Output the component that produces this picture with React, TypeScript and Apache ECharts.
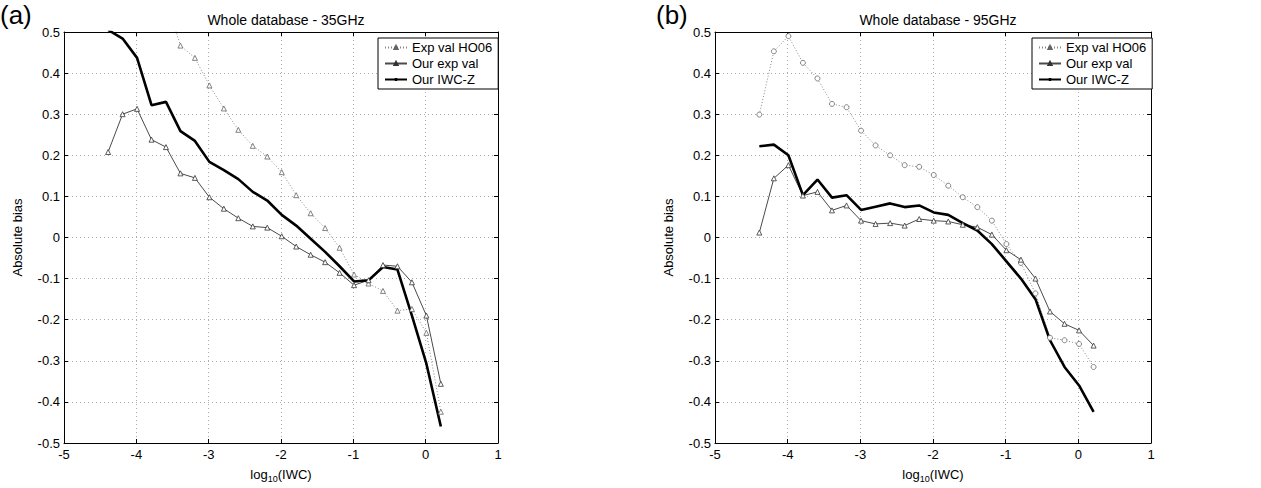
import React, { useEffect, useRef } from "react";
import * as echarts from "echarts";

const X = [-4.39, -4.19, -3.99, -3.79, -3.59, -3.39, -3.19, -2.99, -2.79, -2.59, -2.39, -2.19, -1.99, -1.79, -1.59, -1.39, -1.19, -0.99, -0.79, -0.59, -0.39, -0.19, 0.01, 0.21];

const leftHO06 = [null, null, null, null, 0.58, 0.467, 0.437, 0.37, 0.314, 0.262, 0.223, 0.197, 0.159, 0.103, 0.059, 0.023, -0.025, -0.09, -0.112, -0.13, -0.178, -0.174, -0.232, -0.424];
const leftOurExp = [0.208, 0.3, 0.313, 0.238, 0.22, 0.156, 0.145, 0.098, 0.07, 0.047, 0.027, 0.024, 0.003, -0.022, -0.042, -0.06, -0.086, -0.116, -0.104, -0.067, -0.07, -0.109, -0.19, -0.356];
const leftIWCZ = [0.505, 0.484, 0.437, 0.322, 0.33, 0.259, 0.235, 0.184, 0.164, 0.142, 0.111, 0.09, 0.055, 0.029, -0.003, -0.035, -0.07, -0.107, -0.104, -0.072, -0.078, -0.19, -0.307, -0.46];

const rightHO06 = [0.299, 0.453, 0.49, 0.425, 0.387, 0.325, 0.317, 0.26, 0.224, 0.2, 0.176, 0.172, 0.152, 0.126, 0.098, 0.074, 0.041, -0.016, -0.062, -0.136, -0.244, -0.25, -0.259, -0.315];
const rightOurExp = [0.012, 0.144, 0.176, 0.102, 0.111, 0.066, 0.078, 0.041, 0.033, 0.035, 0.029, 0.045, 0.041, 0.039, 0.031, 0.025, 0.007, -0.031, -0.054, -0.1, -0.18, -0.21, -0.226, -0.263];
const rightIWCZ = [0.222, 0.226, 0.2, 0.103, 0.141, 0.097, 0.103, 0.067, 0.075, 0.083, 0.074, 0.078, 0.061, 0.055, 0.035, 0.017, -0.016, -0.058, -0.1, -0.15, -0.25, -0.315, -0.36, -0.424];

const seriesNames = ["Exp val HO06", "Our exp val", "Our IWC-Z"];
const titles = ["Whole database - 35GHz", "Whole database - 95GHz"];
const panelLabels = ["(a)", "(b)"];

const FONT = "Liberation Sans, Arial, sans-serif";

const pair = (ys: (number | null)[]) => X.map((x, i) => [x, ys[i]]);

export default function App() {
  const ref = useRef<HTMLDivElement>(null);
  useEffect(() => {
    document.body.style.margin = "0";
    const chart = echarts.init(ref.current!, null, { renderer: "svg" });
    const grids = [
      { left: 64, top: 32, width: 434, height: 415 },
      { left: 715, top: 32, width: 436, height: 415 },
    ];
    const xAxes: any[] = [];
    const yAxes: any[] = [];
    for (let g = 0; g < 2; g++) {
      xAxes.push({
        type: "value", gridIndex: g, min: -5, max: 1, interval: 1, position: "bottom",
        name: "log{sub|10}(IWC)", nameLocation: "middle", nameGap: 22,
        nameTextStyle: { fontFamily: FONT, fontSize: 13, color: "#000",
          rich: { sub: { fontSize: 9, verticalAlign: "bottom", padding: [9, 0, 0, 0], fontFamily: FONT, color: "#000" } } },
        axisLine: { show: true, onZero: false, lineStyle: { color: "#000", width: 1 } },
        axisTick: { show: true, inside: true, length: 4, lineStyle: { color: "#000" } },
        axisLabel: { fontFamily: FONT, fontSize: 13, color: "#000", margin: 5 },
        splitLine: { show: true, lineStyle: { type: [1, 3], color: "#aaa", width: 1 } },
      });
      yAxes.push({
        type: "value", gridIndex: g, min: -0.5, max: 0.5, interval: 0.1, position: "left",
        name: "Absolute bias", nameLocation: "middle", nameGap: 40,
        nameTextStyle: { fontFamily: FONT, fontSize: 13, color: "#000" },
        axisLine: { show: true, onZero: false, lineStyle: { color: "#000", width: 1 } },
        axisTick: { show: true, inside: true, length: 4, lineStyle: { color: "#000" } },
        axisLabel: { fontFamily: FONT, fontSize: 13, color: "#000", margin: 4,
          formatter: (v: number) => String(Math.round(v * 10) / 10) },
        splitLine: { show: true, lineStyle: { type: [1, 3], color: "#aaa", width: 1 } },
      });
    }
    for (let g = 0; g < 2; g++) {
      xAxes.push({
        type: "value", gridIndex: g, min: -5, max: 1, interval: 1, position: "top",
        axisLine: { show: true, onZero: false, lineStyle: { color: "#000", width: 1 } },
        axisTick: { show: true, inside: true, length: 4, lineStyle: { color: "#000" } },
        axisLabel: { show: false }, splitLine: { show: false },
      });
      yAxes.push({
        type: "value", gridIndex: g, min: -0.5, max: 0.5, interval: 0.1, position: "right",
        axisLine: { show: true, onZero: false, lineStyle: { color: "#000", width: 1 } },
        axisTick: { show: true, inside: true, length: 4, lineStyle: { color: "#000" } },
        axisLabel: { show: false }, splitLine: { show: false },
      });
    }
    const mk = (g: number, ho: (number | null)[], ours: number[], iwc: number[], hoSym: string) => [
      {
        name: seriesNames[0], type: "line", xAxisIndex: g, yAxisIndex: g, data: pair(ho),
        symbol: hoSym, symbolSize: 5, clip: true,
        lineStyle: { color: "#888", width: 1, type: [1, 2] },
        itemStyle: { color: "#fff", borderColor: "#666", borderWidth: 0.8 },
      },
      {
        name: seriesNames[1], type: "line", xAxisIndex: g, yAxisIndex: g, data: pair(ours),
        symbol: "triangle", symbolSize: 5, clip: true,
        lineStyle: { color: "#4a4a4a", width: 1 },
        itemStyle: { color: "#fff", borderColor: "#333", borderWidth: 0.8 },
      },
      {
        name: seriesNames[2], type: "line", xAxisIndex: g, yAxisIndex: g, data: pair(iwc),
        symbol: "none", clip: true,
        lineStyle: { color: "#000", width: 2.6 },
        itemStyle: { color: "#000" },
      },
    ];
    const legendBase = {
      orient: "vertical", data: seriesNames, itemWidth: 22, itemHeight: 4, itemGap: 3,
      padding: [3, 6, 3, 6], backgroundColor: "#fff", borderColor: "#000", borderWidth: 1, borderRadius: 0,
      textStyle: { fontFamily: FONT, fontSize: 13, color: "#000" }, selectedMode: false,
    };
    chart.setOption({
      animation: false,
      backgroundColor: "#fff",
      title: [
        { text: titles[0], left: 281, top: 8, textAlign: "center", textStyle: { fontFamily: FONT, fontSize: 14, fontWeight: "normal", color: "#000" } },
        { text: titles[1], left: 933, top: 8, textAlign: "center", textStyle: { fontFamily: FONT, fontSize: 14, fontWeight: "normal", color: "#000" } },
        { text: panelLabels[0], left: 0, top: 2, padding: 0, textStyle: { fontFamily: FONT, fontSize: 26, fontWeight: "normal", color: "#000" } },
        { text: panelLabels[1], left: 656, top: 2, padding: 0, textStyle: { fontFamily: FONT, fontSize: 26, fontWeight: "normal", color: "#000" } },
      ],
      legend: [
        { ...legendBase, left: 378, top: 38 },
        { ...legendBase, left: 1032, top: 38 },
      ],
      grid: grids,
      xAxis: xAxes,
      yAxis: yAxes,
      series: [
        ...mk(0, leftHO06, leftOurExp, leftIWCZ, "triangle"),
        ...mk(1, rightHO06, rightOurExp, rightIWCZ, "circle"),
      ],
    });
    return () => chart.dispose();
  }, []);
  return <div ref={ref} style={{ width: 1261, height: 488 }} />;
}
